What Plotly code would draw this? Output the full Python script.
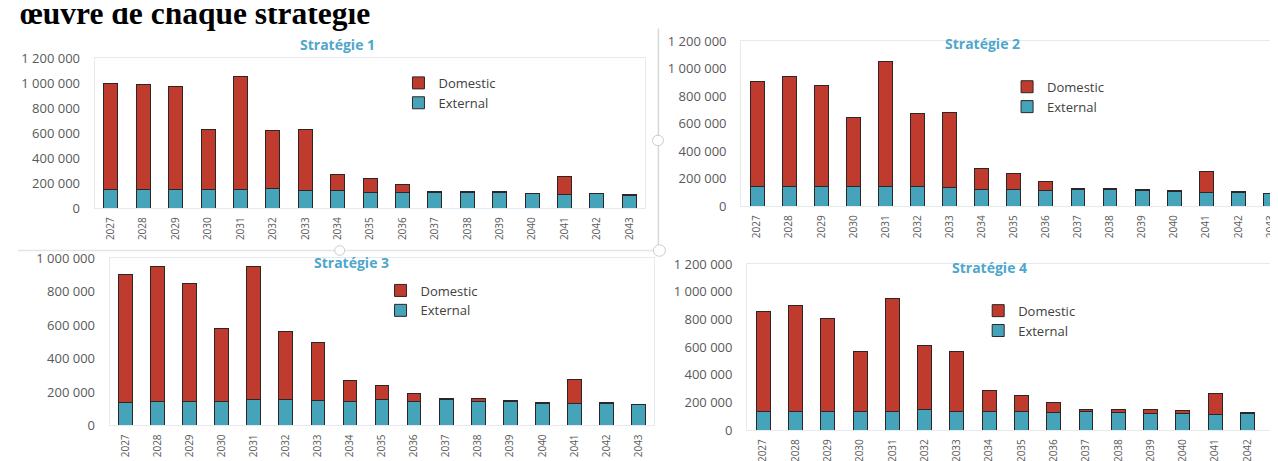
import plotly.graph_objects as go

# ---------------- data ----------------
years = ["2027", "2028", "2029", "2030", "2031", "2032", "2033", "2034", "2035",
         "2036", "2037", "2038", "2039", "2040", "2041", "2042", "2043"]

s1_external = [146000, 146000, 146000, 146000, 149000, 159000, 141000, 141000, 128000,
               126000, 128000, 128000, 123000, 115000, 110000, 115000, 103000]
s1_domestic = [849000, 841000, 826000, 485000, 902000, 467000, 492000, 133000, 110000,
               64000, 5000, 8000, 8000, 5000, 146000, 5000, 5000]

s2_external = [143000, 143000, 143000, 143000, 143000, 143000, 136000, 125000, 122000,
               118000, 124000, 122000, 118000, 111000, 97000, 102000, 92000]
s2_domestic = [766000, 796000, 734000, 501000, 907000, 531000, 545000, 147000, 113000,
               64000, 5000, 7000, 2000, 2000, 154000, 6000, 3000]

s3_external = [138000, 144000, 144000, 144000, 154000, 156000, 148000, 144000, 154000,
               144000, 154000, 144000, 144000, 133000, 129000, 133000, 123000]
s3_domestic = [762000, 804000, 702000, 433000, 794000, 407000, 348000, 125000, 84000,
               48000, 9000, 14000, 6000, 5000, 148000, 5000, 4000]

s4_external = [137000, 137000, 137000, 137000, 137000, 149000, 137000, 137000, 137000,
               130000, 135000, 130000, 123000, 119000, 112000, 119000, 110000]
s4_domestic = [718000, 764000, 672000, 434000, 812000, 461000, 434000, 151000, 114000,
               69000, 18000, 23000, 23000, 20000, 155000, 7000, 4000]

titles = ["Stratégie 1", "Stratégie 2", "Stratégie 3", "Stratégie 4"]
y_max = [1200000, 1200000, 1000000, 1200000]
heading = "œuvre de chaque stratégie"

# ---------------- style ----------------
W, H = 1278, 461
RED = "#BE3B2E"
TEAL = "#45A4BA"
OUTLINE = "#2E2626"
TICK = "#595959"
TITLE = "#4FA6CB"
FRAME = "#E4EAED"
FONT = "Open Sans"

def px(x):
    return x / W

def py(y):
    return 1 - y / H

# plot areas in pixels: (left, right, top(=ymax), bottom(=0)), x range end
areas = [
    dict(l=87, r=640, t=43, b=199, xr=16.5),
    dict(l=736, r=1278, t=25, b=197, xr=16.33),
    dict(l=102, r=649, t=251, b=425, xr=16.5),
    dict(l=742, r=1278, t=257, b=430, xr=16.04),
]
title_pos = [(331, 29), (978, 28), (345, 255), (985, 261)]
legend_pos = [(392, 53), (1003, 57), (374, 269), (974, 290)]

series = [(s1_external, s1_domestic), (s2_external, s2_domestic),
          (s3_external, s3_domestic), (s4_external, s4_domestic)]

fig = go.Figure()
layout = dict(
    width=W, height=H, autosize=False,
    margin=dict(l=0, r=0, t=0, b=0),
    paper_bgcolor="white", plot_bgcolor="white",
    barmode="stack", bargap=0.57,
    separators=", ",
    showlegend=True,
    font=dict(family=FONT, color=TICK),
)

annotations = []
for i, (ext, dom) in enumerate(series):
    k = "" if i == 0 else str(i + 1)
    a = areas[i]
    leg = "legend" + k
    fig.add_trace(go.Bar(
        x=years, y=ext, name="External", xaxis="x" + k, yaxis="y" + k,
        marker=dict(color=TEAL, line=dict(color=OUTLINE, width=1)),
        legend=leg, showlegend=True,
    ))
    fig.add_trace(go.Bar(
        x=years, y=dom, name="Domestic", xaxis="x" + k, yaxis="y" + k,
        marker=dict(color=RED, line=dict(color=OUTLINE, width=1)),
        legend=leg, showlegend=True,
    ))
    layout["xaxis" + k] = dict(
        domain=[px(a["l"]), px(a["r"])], anchor="y" + k,
        range=[-0.5, a["xr"]], type="category",
        tickangle=-90, tickfont=dict(size=10, color=TICK, family=FONT),
        showgrid=False, showline=True, linecolor=FRAME, linewidth=1, mirror=True,
        ticks="", ticklabelstandoff=4, fixedrange=True,
    )
    layout["yaxis" + k] = dict(
        domain=[py(a["b"]), py(a["t"])], anchor="x" + k,
        range=[0, y_max[i]], dtick=200000, tickformat=",d",
        tickfont=dict(size=13, color=TICK, family=FONT),
        showgrid=False, showline=True, linecolor=FRAME, linewidth=1, mirror=True,
        zeroline=False, ticks="", ticklabelstandoff=11, fixedrange=True,
    )
    lx, ly = legend_pos[i]
    layout[leg] = dict(
        x=px(lx), y=py(ly), xanchor="left", yanchor="top",
        traceorder="reversed", bgcolor="rgba(0,0,0,0)", borderwidth=0,
        font=dict(size=13, color="#404040", family=FONT),
        itemwidth=30, tracegroupgap=0,
    )
    tx, ty = title_pos[i]
    annotations.append(dict(
        text="<b>" + titles[i] + "</b>", x=px(tx), y=py(ty),
        xref="paper", yref="paper", xanchor="center", yanchor="middle",
        showarrow=False, font=dict(size=14, color=TITLE, family=FONT),
    ))

annotations.append(dict(
    text="<b>" + heading + "</b>", x=px(10), y=py(17),
    xref="paper", yref="paper", xanchor="left", yanchor="bottom",
    showarrow=False, font=dict(size=31.5, color="black", family="Liberation Serif"),
))

layout["annotations"] = annotations

# faint selection-frame remnants from the scanned slide
shapes = [
    dict(type="line", xref="paper", yref="paper", x0=px(653), x1=px(653),
         y0=py(12), y1=py(240), line=dict(color="#D4D8DA", width=1.5)),
    dict(type="line", xref="paper", yref="paper", x0=px(10), x1=px(652),
         y0=py(243), y1=py(243), line=dict(color="#E2E6E8", width=1.5)),
    dict(type="circle", xref="paper", yref="paper", x0=px(647), x1=px(658),
         y0=py(123), y1=py(134), line=dict(color="#C8CCCE", width=1), fillcolor="white"),
    dict(type="circle", xref="paper", yref="paper", x0=px(648), x1=px(660),
         y0=py(237), y1=py(249), line=dict(color="#C8CCCE", width=1), fillcolor="white"),
    dict(type="circle", xref="paper", yref="paper", x0=px(328), x1=px(338),
         y0=py(238), y1=py(248), line=dict(color="#C8CCCE", width=1), fillcolor="white"),
]
layout["shapes"] = shapes

fig.update_layout(**layout)
fig.write_html("out.html", config={"displayModeBar": False})
